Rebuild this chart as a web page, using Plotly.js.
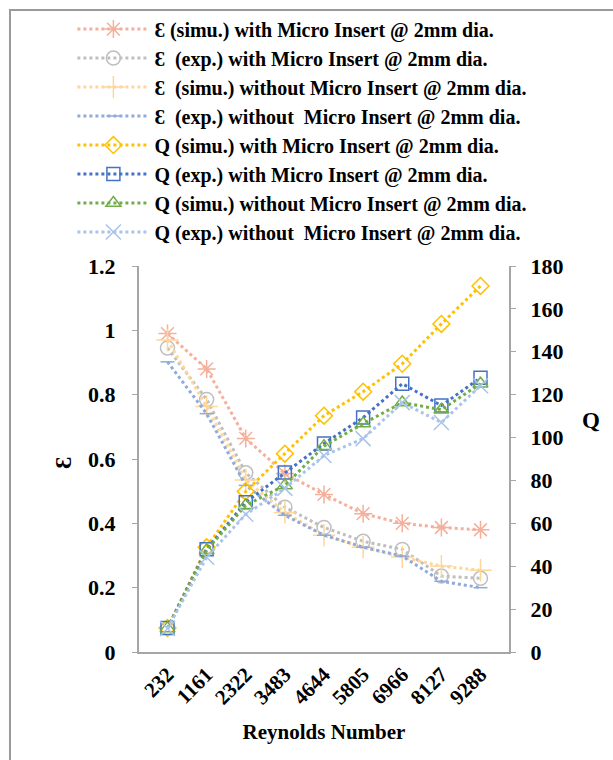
<!DOCTYPE html>
<html>
<head>
<meta charset="utf-8">
<script src="https://cdn.plot.ly/plotly-3.0.1.min.js"></script>
<style>
  html, body { margin: 0; padding: 0; background: #fff; }
  #frame { position: absolute; left: 9px; top: 9px; width: 620px; height: 760px; border-left: 2px solid #9a9a9a; border-top: 2px solid #9a9a9a; }
  #chart { position: absolute; left: 0; top: 0; width: 613px; height: 760px; }
</style>
</head>
<body>
<div id="frame"></div>
<div id="chart"></div>
<script>
// Categories (Reynolds number)
const reynolds = ['232', '1161', '2322', '3483', '4644', '5805', '6966', '8127', '9288'];

// Effectiveness (left axis)
const epsSimWith    = [0.99, 0.88, 0.664, 0.555, 0.49, 0.43, 0.40, 0.387, 0.38];
const epsExpWith    = [0.945, 0.785, 0.557, 0.45, 0.387, 0.344, 0.319, 0.236, 0.229];
const epsSimWithout = [0.97, 0.763, 0.535, 0.434, 0.363, 0.326, 0.295, 0.267, 0.254];
const epsExpWithout = [0.902, 0.741, 0.518, 0.425, 0.363, 0.326, 0.298, 0.22, 0.20];

// Q (right axis)
const qSimWith    = [11.2, 48.8, 74.9, 92.5, 110.2, 121.4, 134.4, 153, 170.7];
const qExpWith    = [11.2, 47.9, 69.8, 83.7, 97.2, 109.3, 125.1, 114.9, 127.9];
const qSimWithout = [11, 47.4, 68.4, 77.7, 96, 106.5, 116.3, 113, 125.1];
const qExpWithout = [11, 44.2, 64.2, 76.3, 91.6, 99.5, 116.3, 107, 124.2];

const names = [
  'Ɛ (simu.) with Micro Insert @ 2mm dia.',
  'Ɛ  (exp.) with Micro Insert @ 2mm dia.',
  'Ɛ  (simu.) without Micro Insert @ 2mm dia.',
  'Ɛ  (exp.) without  Micro Insert @ 2mm dia.',
  'Q (simu.) with Micro Insert @ 2mm dia.',
  'Q (exp.) with Micro Insert @ 2mm dia.',
  'Q (simu.) without Micro Insert @ 2mm dia.',
  'Q (exp.) without  Micro Insert @ 2mm dia.'
];

const FONT = 'Liberation Serif';

function tr(y, name, color, symbol, size, axis, grp) {
  return {
    x: reynolds, y: y, name: name, type: 'scatter', mode: 'lines+markers',
    yaxis: axis, legendgroup: grp,
    line: { color: color, width: 3, dash: 'dot' },
    marker: { symbol: symbol, size: size, color: color, line: { color: color, width: 1.5 } }
  };
}

const data = [
  tr(epsSimWith, names[0], '#F4B09A', 'asterisk-open', 15, 'y', 'g1'),
  tr(epsExpWith, names[1], '#BFBFBF', 'circle-open', 14, 'y', 'g2'),
  tr(epsSimWithout, names[2], '#FFD699', 'cross-thin-open', 16, 'y', 'g3'),
  tr(epsExpWithout, names[3], '#8FAADC', 'line-ew-open', 10, 'y', 'g4'),
  tr(qSimWith, names[4], '#FFC000', 'diamond-open', 13, 'y2', 'g5'),
  tr(qExpWith, names[5], '#4472C4', 'square-open', 13, 'y2', 'g6'),
  tr(qSimWithout, names[6], '#70AD47', 'triangle-up-open', 13, 'y2', 'g7'),
  tr(qExpWithout, names[7], '#A9C4EB', 'x-thin-open', 15, 'y2', 'g8')
];

const tickFont = { family: FONT, size: 22, color: '#000', weight: 700 };

const layout = {
  width: 613, height: 760,
  paper_bgcolor: 'rgba(0,0,0,0)', plot_bgcolor: '#fff',
  margin: { l: 139, r: 104, t: 265, b: 108 },
  showlegend: true,
  legend: {
    x: -0.18, xanchor: 'left', y: 1.66, yanchor: 'top',
    font: { family: FONT, size: 20, color: '#000', weight: 700 },
    bgcolor: 'rgba(0,0,0,0)', tracegroupgap: 0, itemwidth: 72
  },
  xaxis: {
    type: 'category', tickangle: -45, tickfont: { family: FONT, size: 21, color: '#000', weight: 700 },
    showline: true, linecolor: '#a6a6a6', linewidth: 2, mirror: false,
    showgrid: false, ticks: '', zeroline: false,
    title: { text: 'Reynolds Number', font: { family: FONT, size: 21, color: '#000', weight: 700 }, standoff: 16 }
  },
  yaxis: {
    range: [0, 1.2], dtick: 0.2, tickfont: tickFont,
    showline: true, linecolor: '#a6a6a6', linewidth: 2,
    ticks: 'outside', ticklen: 5, tickcolor: '#a6a6a6', ticklabelstandoff: 12,
    showgrid: false, zeroline: false
  },
  yaxis2: {
    overlaying: 'y', side: 'right', range: [0, 180], dtick: 20, tickfont: tickFont,
    showline: true, linecolor: '#a6a6a6', linewidth: 2,
    ticks: 'outside', ticklen: 5, tickcolor: '#a6a6a6', ticklabelstandoff: 10,
    showgrid: false, zeroline: false
  },
  annotations: [
    { text: 'Ɛ', xref: 'paper', yref: 'paper', x: -0.163, y: 0.49, xanchor: 'right', showarrow: false, textangle: -90,
      font: { family: FONT, size: 23, color: '#000', weight: 700 } },
    { text: 'Q', xref: 'paper', yref: 'paper', x: 1.25, y: 0.60, showarrow: false,
      font: { family: FONT, size: 23, color: '#000', weight: 700 } }
  ]
};

Plotly.newPlot('chart', data, layout, { displayModeBar: false, staticPlot: true });
</script>
</body>
</html>
